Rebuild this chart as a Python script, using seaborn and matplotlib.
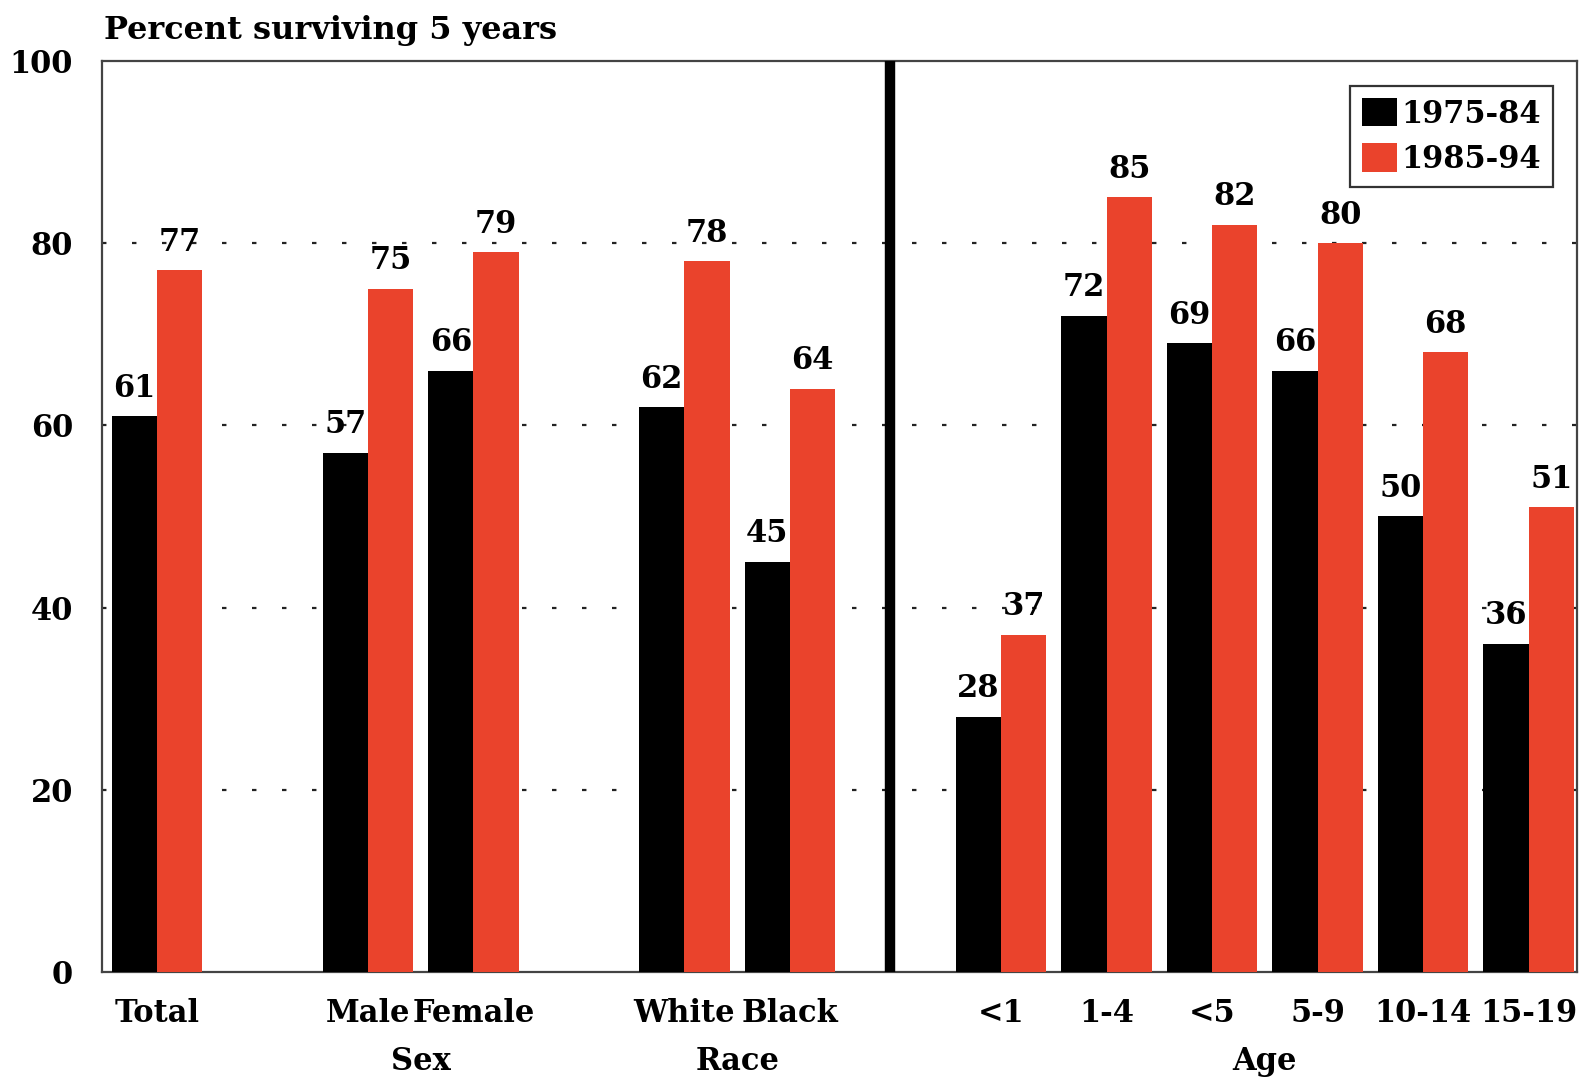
import numpy as np
import pandas as pd
import seaborn as sns
import matplotlib.pyplot as plt
import matplotlib.transforms as mtransforms

### Five year survival data
categories = ['Total', 'Male', 'Female', 'White', 'Black', '<1', '1-4', '<5', '5-9', '10-14', '15-19']
groups = ['', 'Sex', 'Sex', 'Race', 'Race', 'Age', 'Age', 'Age', 'Age', 'Age', 'Age']
period_early = [61, 57, 66, 62, 45, 28, 72, 69, 66, 50, 36]
period_late = [77, 75, 79, 78, 64, 37, 85, 82, 80, 68, 51]
periods = ['1975-84', '1985-94']
colours = ['#000000', '#EA432C']

### Slot order with empty spacer slots between the groups
order = ['Total', 'sp1', 'Male', 'Female', 'sp2', 'White', 'Black', 'sp3',
         '<1', '1-4', '<5', '5-9', '10-14', '15-19']

df = pd.DataFrame({
    'category': categories * 2,
    'value': period_early + period_late,
    'period': [periods[0]] * len(categories) + [periods[1]] * len(categories),
})

sns.set_style('white')
plt.rcParams['font.family'] = ['DejaVu Serif']
plt.rcParams['font.weight'] = 'bold'
plt.rcParams['text.color'] = 'black'
plt.rcParams['xtick.color'] = 'black'
plt.rcParams['ytick.color'] = 'black'
plt.rcParams['lines.scale_dashes'] = False

FS = 22

fig = plt.figure(figsize=(15.85, 10.86), dpi=100)
ax = fig.add_axes([0.0644, 0.105, 0.9306, 0.839])

sns.barplot(data=df, x='category', y='value', hue='period', order=order,
            hue_order=periods, palette=colours, saturation=1, width=0.86,
            gap=0, linewidth=0, ax=ax, zorder=3)

for c in ax.containers:
    ax.bar_label(c, padding=9, fontsize=FS, fontweight='bold', color='black', zorder=4)

ax.set_ylim(0, 100)
ax.set_xlim(-0.52, 13.46)
ax.set_yticks([0, 20, 40, 60, 80, 100])
ax.set_yticklabels(['0', '20', '40', '60', '80', '100'], fontsize=FS, fontweight='bold')

pos = [order.index(c) for c in categories]
ax.set_xticks(pos)
ax.set_xticklabels(categories, fontsize=FS, fontweight='bold')
ax.tick_params(axis='y', length=0, pad=21)
ax.tick_params(axis='x', length=0, pad=19)
ax.set_xlabel('')
ax.set_ylabel('')

### Group labels under the category labels
trans = mtransforms.blended_transform_factory(ax.transData, ax.transAxes)
for g in ['Sex', 'Race', 'Age']:
    xs = [p for p, gg in zip(pos, groups) if gg == g]
    ax.text(np.mean(xs), -0.098, g, transform=trans, ha='center', va='center',
            fontsize=FS, fontweight='bold')

### Dashed gridlines behind the bars
for yv in [20, 40, 60, 80]:
    ax.axhline(yv, color='#222222', lw=1.6, linestyle=(0, (3.2, 18.4)), zorder=1)

### Thick separator between race and age
ax.axvline(6.95, color='black', lw=7.5, solid_capstyle='round', zorder=5)

for s in ax.spines.values():
    s.set_color('#444444')
    s.set_linewidth(1.6)

leg = ax.legend(loc='upper right', bbox_to_anchor=(0.984, 0.9725), borderaxespad=0,
                fancybox=False, edgecolor='#333333', framealpha=1, fontsize=FS,
                handlelength=1.15, handleheight=1.05, handletextpad=0.15,
                borderpad=0.4, labelspacing=0.45, title=None)
leg.get_frame().set_linewidth(1.6)
for t in leg.get_texts():
    t.set_fontweight('bold')

fig.text(0.0656, 0.972, 'Percent surviving 5 years', ha='left', va='center',
         fontsize=23, fontweight='bold')

plt.savefig('out.png', dpi=100)
